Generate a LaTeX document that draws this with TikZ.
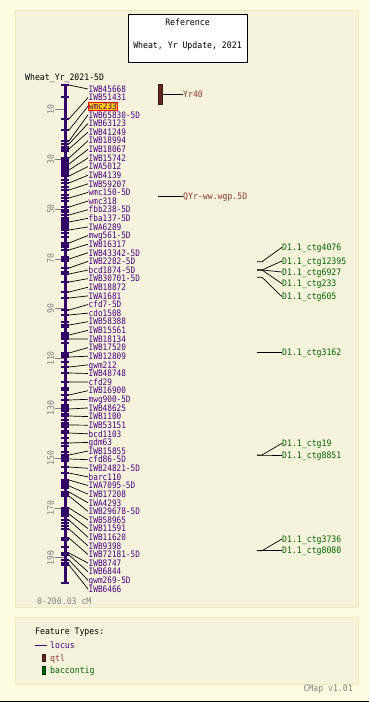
\documentclass[tikz,border=0pt]{standalone}
\usepackage{fontspec}
\usepackage{xcolor}
\usetikzlibrary{shapes}
\newfontfamily\mapfont[FakeStretch=0.87]{DejaVu Sans Mono}
\newfontfamily\boxfont[FakeStretch=0.92]{DejaVu Sans Mono}
\definecolor{pagebg}{RGB}{255,253,225}
\definecolor{panelbg}{RGB}{245,243,220}
\definecolor{panelrule}{RGB}{240,234,185}
\definecolor{locuscol}{RGB}{75,0,130}
\definecolor{chromcol}{RGB}{51,0,102}
\definecolor{qtlcol}{RGB}{139,58,48}
\definecolor{qtlfill}{RGB}{100,40,30}
\definecolor{baccol}{RGB}{0,100,0}
\definecolor{scalecol}{RGB}{128,128,128}
\definecolor{hilite}{RGB}{255,204,0}

\begin{document}
\begin{tikzpicture}[x = 1pt, y = -1pt,
  lab/.style = {anchor = west, inner sep = .5pt, text height = 6.5pt, text depth = 0pt, text = locuscol, font = \mapfont\fontsize{8.9}{9}\selectfont},
  hilab/.style = {lab, fill = hilite, draw = red, line width = .8pt},
  txt/.style = {anchor = west, inner sep = 0pt, text height = 6.5pt, text depth = 0pt, font = \boxfont\fontsize{8.9}{9}\selectfont},
  qtllab/.style = {txt, text = qtlcol},
  baclab/.style = {txt, text = baccol},
  grey/.style = {txt, text = scalecol},
  link/.style = {line width = .7pt}]
  \useasboundingbox (0, 0) rectangle (369, 702);
  \fill[pagebg] (0, 0) rectangle (369, 702);
  \draw[line width = 1.5pt] (0, 701.25) -- (369, 701.25);
  \draw[panelrule, fill = panelbg] (15.5, 10.5) rectangle (358.5, 607.5);
  \draw[panelrule, fill = panelbg] (15.5, 617.5) rectangle (358.5, 684.5);

  \node[draw, fill = white, minimum width = 119pt, minimum height = 48pt, inner sep = 0pt] at (187.5, 38) (refbox) {};
  \node[txt, anchor = center] at (187.5, 22.7) (reftitle) {Reference};
  \node[txt, anchor = center] at (187.5, 45.3) (refname) {Wheat, Yr Update, 2021};
  \node[txt] at (25, 77) (mapname) {Wheat\_Yr\_2021-5D};

  \foreach \c in {10, 30, ..., 190}
  {
  \pgfmathsetmacro\cy{84.5 + 2.491*\c}
  \draw[scalecol, line width = .7pt] (55, \cy) -- (64, \cy);
  \node[grey, anchor = center, rotate = 90] at (50.5, \cy) (s\c) {\c};
  }

  \draw[chromcol, line width = 3pt] (65, 84.5) -- (65, 583);
  \foreach \t in {85, 97, 119, 130, 141, 144, 147, 149, 151, 158, 160, 162, 164, 166, 168, 170, 172, 174, 176, 180, 183, 187, 190, 195, 198, 201, 207, 210, 212, 215, 218, 220, 222, 224, 226, 228, 230, 233, 237, 243, 245, 247, 250, 257, 259, 261, 268, 272, 274, 282, 292, 298, 310, 315, 322, 325, 327, 333, 335, 337, 339, 343, 353, 355, 357, 362, 367, 373, 382, 388, 390, 395, 400, 405, 407, 409, 411, 414, 416, 420, 423, 425, 427, 431, 433, 438, 443, 446, 452, 455, 457, 459, 461, 467, 473, 480, 482, 484, 486, 488, 492, 494, 496, 508, 510, 512, 514, 516, 520, 523, 526, 529, 538, 540, 547, 553, 555, 560, 563, 565, 583}
  \draw[chromcol, line width = 1.6pt] (61, \t) -- (69, \t);

  \foreach \name/\my/\sty [count = \i] in {IWB45668/85/lab, IWB51431/119/lab, wmc233/130/hilab, IWB65830-5D/141/lab, IWB63123/144/lab, IWB41249/149/lab, IWB18994/158/lab, IWB18067/164/lab, IWB15742/170/lab, IWA5012/176/lab, IWB4139/183/lab, IWB59207/190/lab, wmc150-5D/198/lab, wmc318/207/lab, fbb238-5D/215/lab, fba137-5D/222/lab, IWA6289/230/lab, mwg561-5D/243/lab, IWB16317/250/lab, IWB43342-5D/259/lab, IWB2282-5D/268/lab, bcd1874-5D/274/lab, IWB30701-5D/282/lab, IWB18872/292/lab, IWA1681/298/lab, cfd7-5D/310/lab, cdo1508/315/lab, IWB58388/325/lab, IWB15561/335/lab, IWB18134/339/lab, IWB17520/353/lab, IWB12809/357/lab, gwm212/367/lab, IWB48748/373/lab, cfd29/382/lab, IWB16900/395/lab, mwg900-5D/400/lab, IWB48625/409/lab, IWB1100/416/lab, IWB53151/425/lab, bcd1103/433/lab, gdm63/443/lab, IWB15855/455/lab, cfd86-5D/459/lab, IWB24821-5D/467/lab, barc110/473/lab, IWA7095-5D/480/lab, IWB17208/486/lab, IWA4293/492/lab, IWB29678-5D/496/lab, IWB58965/508/lab, IWB11591/514/lab, IWB11620/520/lab, IWB9398/529/lab, IWB72181-5D/538/lab, IWB8747/553/lab, IWB6844/555/lab, gwm269-5D/560/lab, IWB6466/565/lab}
  {
  \pgfmathsetmacro\ly{89 + (\i - 1)*8.62}
  \coordinate (m\i) at (69, \my);
  \node[\sty] at (88, \ly) (l\i) {\name};
  \draw[link] (m\i) -- (l\i.west);
  }

  \node[draw = qtlfill!60!black, fill = qtlfill, minimum width = 3.4pt, minimum height = 19.3pt, inner sep = 0pt] at (160, 94.3) (yr40bar) {};
  \node[qtllab] at (183, 94.3) (yr40) {Yr40};
  \draw[link] (yr40bar.east) -- (yr40.west);
  \coordinate (qyrpos) at (158, 196);
  \node[qtllab] at (183, 196) (qyr) {QYr-ww.wgp.5D};
  \draw[link] (qyrpos) -- (qyr.west);

  \foreach \name/\cy/\ly [count = \j] in {4076/261.7/247.3, 12395/270/261, 6927/270/272, 233/270/283.7, 605/277.3/296.7, 3162/352.7/352.7, 19/455/443.3, 8851/455/455, 3736/550.7/539, 8080/550.7/550.7}
  {
  \coordinate (c\j) at (257, \cy);
  \coordinate (k\j) at (262, \cy);
  \node[baclab] at (282, \ly) (b\j) {D1.1\_ctg\name};
  \draw[link] (c\j) -- (k\j) -- (b\j.west);
  }

  \node[grey] at (37, 601) (range) {0-200.03 cM};
  \node[txt] at (35, 631.7) (legtitle) {Feature Types:};
  \coordinate (locA) at (35, 645);
  \coordinate (locB) at (47, 645);
  \draw[locuscol, link] (locA) -- (locB);
  \node[txt, text = locuscol] at (50, 645) (loclab) {locus};
  \node[draw = qtlfill!60!black, fill = qtlfill, minimum width = 2.7pt, minimum height = 7.7pt, inner sep = 0pt] at (44, 657.8) (qtlkey) {};
  \node[qtllab] at (50, 657.8) (qtlkeylab) {qtl};
  \node[draw = baccol!60!black, fill = baccol, minimum width = 2.7pt, minimum height = 7.7pt, inner sep = 0pt] at (44, 670.5) (backey) {};
  \node[baclab] at (50, 670.5) (backeylab) {baccontig};
  \node[grey, anchor = east] at (353, 688.3) (version) {CMap v1.01};
\end{tikzpicture}
\end{document}
